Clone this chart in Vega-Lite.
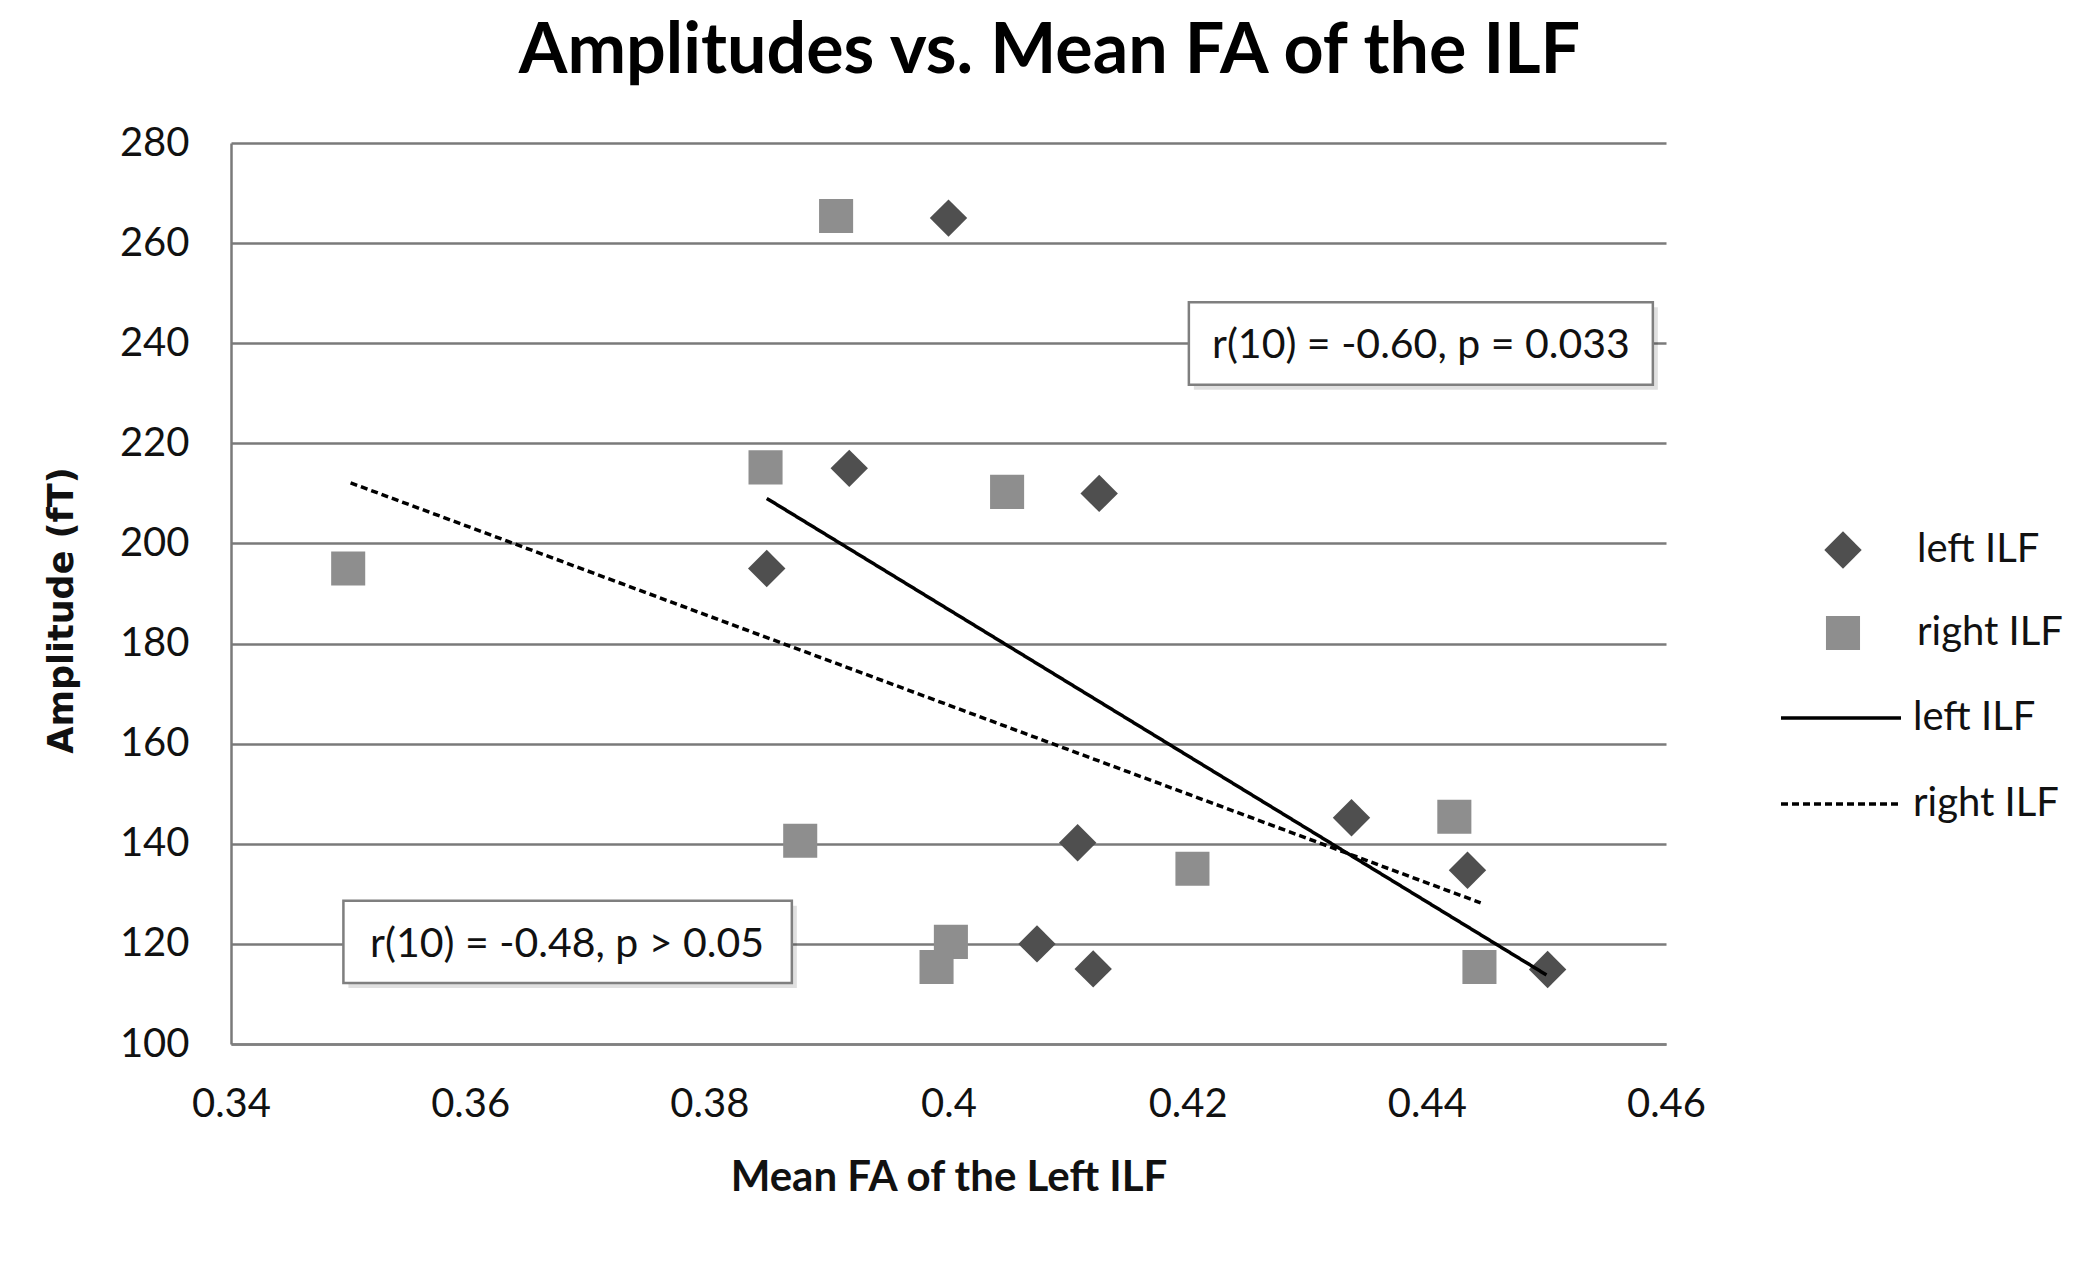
{
  "$schema": "https://vega.github.io/schema/vega-lite/v6.json",
  "width": 1435,
  "height": 901,
  "autosize": {"type": "none"},
  "padding": {"left": 231, "top": 143, "right": 407, "bottom": 227},
  "background": "white",
  "title": {
    "text": "Amplitudes vs. Mean FA of the ILF",
    "font": "Lato",
    "fontSize": 70,
    "fontWeight": "bold",
    "color": "#000000",
    "frame": "group",
    "anchor": "middle",
    "dx": 101,
    "offset": 35
  },
  "datasets": {
    "points": [
      {"fa": 0.4000, "amp": 265.0, "series": "left ILF"},
      {"fa": 0.3917, "amp": 215.0, "series": "left ILF"},
      {"fa": 0.4126, "amp": 210.0, "series": "left ILF"},
      {"fa": 0.3848, "amp": 195.0, "series": "left ILF"},
      {"fa": 0.4337, "amp": 145.2, "series": "left ILF"},
      {"fa": 0.4108, "amp": 140.2, "series": "left ILF"},
      {"fa": 0.4434, "amp": 134.7, "series": "left ILF"},
      {"fa": 0.4074, "amp": 120.0, "series": "left ILF"},
      {"fa": 0.4121, "amp": 115.0, "series": "left ILF"},
      {"fa": 0.4501, "amp": 114.9, "series": "left ILF"},
      {"fa": 0.3906, "amp": 265.4, "series": "right ILF"},
      {"fa": 0.3847, "amp": 215.2, "series": "right ILF"},
      {"fa": 0.4049, "amp": 210.3, "series": "right ILF"},
      {"fa": 0.3498, "amp": 195.0, "series": "right ILF"},
      {"fa": 0.4423, "amp": 145.4, "series": "right ILF"},
      {"fa": 0.3876, "amp": 140.6, "series": "right ILF"},
      {"fa": 0.4204, "amp": 135.0, "series": "right ILF"},
      {"fa": 0.4002, "amp": 120.4, "series": "right ILF"},
      {"fa": 0.3990, "amp": 115.4, "series": "right ILF"},
      {"fa": 0.4444, "amp": 115.4, "series": "right ILF"}
    ],
    "fits": [
      {"fa": 0.3848, "amp": 209.0, "fit": "left fit"},
      {"fa": 0.4500, "amp": 113.8, "fit": "left fit"},
      {"fa": 0.3500, "amp": 212.1, "fit": "right fit"},
      {"fa": 0.4445, "amp": 128.2, "fit": "right fit"}
    ],
    "boxes": [
      {"fa": 0.4201, "fa2": 0.4589, "amp": 248.2, "amp2": 231.7},
      {"fa": 0.3494, "fa2": 0.3869, "amp": 128.6, "amp2": 112.2}
    ],
    "notes": [
      {"fa": 0.4395, "amp": 239.4, "label": "r(10) = -0.60, p = 0.033"},
      {"fa": 0.3681, "amp": 119.8, "label": "r(10) = -0.48, p > 0.05"}
    ]
  },
  "encoding": {
    "x": {
      "field": "fa",
      "type": "quantitative",
      "scale": {"domain": [0.34, 0.46], "nice": false, "zero": false},
      "axis": {
        "title": "Mean FA of the Left ILF",
        "values": [0.34, 0.36, 0.38, 0.4, 0.42, 0.44, 0.46],
        "format": ".2~f",
        "grid": false,
        "ticks": false,
        "domain": true,
        "domainColor": "#808080",
        "domainWidth": 2.5,
        "labelFont": "Lato",
        "labelFontSize": 40,
        "labelColor": "#111111",
        "labelPadding": 40,
        "labelFlush": false,
        "labelOverlap": false,
        "titleFont": "Lato",
        "titleFontSize": 42,
        "titleFontWeight": "bold",
        "titleColor": "#111111",
        "titlePadding": 33
      }
    },
    "y": {
      "field": "amp",
      "type": "quantitative",
      "scale": {"domain": [100, 280], "nice": false, "zero": false},
      "axis": {
        "title": "Amplitude (fT)",
        "values": [100, 120, 140, 160, 180, 200, 220, 240, 260, 280],
        "grid": true,
        "gridColor": "#7a7a7a",
        "gridWidth": 2.5,
        "gridOpacity": 1,
        "ticks": false,
        "domain": true,
        "domainColor": "#7a7a7a",
        "domainWidth": 2.5,
        "labelFont": "Lato",
        "labelFontSize": 40,
        "labelColor": "#111111",
        "labelPadding": 42,
        "labelOverlap": false,
        "titleFont": "DejaVu Sans",
        "titleFontSize": 35,
        "titleFontWeight": "bold",
        "titleColor": "#111111",
        "titlePadding": 40,
        "titleY": 467
      }
    }
  },
  "layer": [
    {
      "data": {"name": "boxes"},
      "mark": {"type": "rect", "fill": "#000000", "opacity": 0.12, "xOffset": 5, "x2Offset": 5, "yOffset": 5, "y2Offset": 5},
      "encoding": {"x2": {"field": "fa2"}, "y2": {"field": "amp2"}}
    },
    {
      "data": {"name": "boxes"},
      "mark": {"type": "rect", "fill": "white", "stroke": "#7f7f7f", "strokeWidth": 2.5},
      "encoding": {"x2": {"field": "fa2"}, "y2": {"field": "amp2"}}
    },
    {
      "data": {"name": "notes"},
      "mark": {"type": "text", "font": "Lato", "fontSize": 41, "color": "#111111", "align": "center", "baseline": "middle"},
      "encoding": {"text": {"field": "label"}}
    },
    {
      "data": {"name": "points"},
      "mark": {"type": "point", "filled": true, "opacity": 1},
      "encoding": {
        "color": {
          "field": "series",
          "type": "nominal",
          "scale": {"domain": ["left ILF", "right ILF"], "range": ["#4f4f4f", "#8e8e8e"]},
          "legend": {
            "title": null,
            "orient": "none",
            "legendX": 1592,
            "legendY": 387,
            "padding": 0,
            "symbolSize": 1000,
            "symbolStrokeWidth": 0,
            "labelFont": "Lato",
            "labelFontSize": 40,
            "labelColor": "#111111",
            "labelOffset": 54,
            "rowPadding": 43
          }
        },
        "shape": {
          "field": "series",
          "type": "nominal",
          "scale": {"domain": ["left ILF", "right ILF"], "range": ["diamond", "square"]}
        },
        "size": {
          "field": "series",
          "type": "nominal",
          "scale": {"domain": ["left ILF", "right ILF"], "range": [1400, 1160]},
          "legend": null
        }
      }
    },
    {
      "data": {"name": "fits"},
      "mark": {"type": "line", "color": "#000000", "strokeWidth": 3.5},
      "encoding": {
        "strokeDash": {
          "field": "fit",
          "type": "nominal",
          "scale": {"domain": ["left fit", "right fit"], "range": [[1, 0], [7, 4]]},
          "legend": {
            "title": null,
            "orient": "none",
            "legendX": 1588,
            "legendY": 553,
            "padding": 0,
            "symbolType": "M-3,0H3",
            "symbolSize": 1600,
            "symbolStrokeColor": "#000000",
            "symbolStrokeWidth": 3.5,
            "labelFont": "Lato",
            "labelFontSize": 40,
            "labelColor": "#111111",
            "labelOffset": 50,
            "rowPadding": 44,
            "labelExpr": "datum.label == 'left fit' ? 'left ILF' : 'right ILF'"
          }
        }
      }
    }
  ],
  "config": {
    "view": {"stroke": null},
    "font": "Lato"
  }
}
